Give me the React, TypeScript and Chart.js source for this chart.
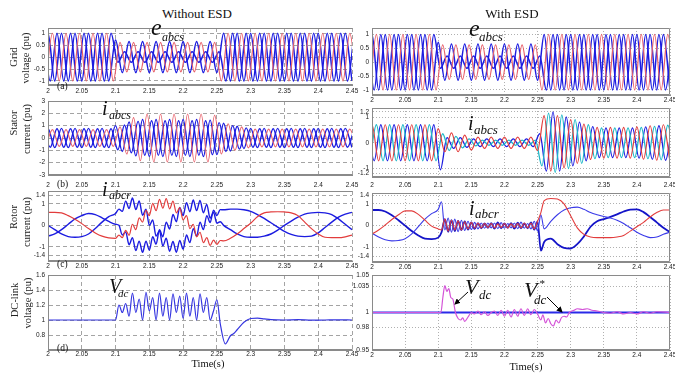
import React, { useEffect, useRef } from "react";
import { Chart, registerables } from "chart.js";
Chart.register(...registerables);

const SERIF = '"Liberation Serif", "Times New Roman", serif';
const SANS = '"Liberation Sans", Arial, sans-serif';

const rep = (v: number, n: number): number[] => Array(n).fill(v);
const steps = (start: number, step: number, n: number): number[] =>
  Array.from({ length: n }, (_, i) => +(start + i * step).toFixed(4));

// ---------- tick values ----------
const TIME_TICKS = [2, 2.05, 2.1, 2.15, 2.2, 2.25, 2.3, 2.35, 2.4, 2.45];
const GRID_TICKS = [-1, -0.5, 0, 0.5, 1];
const STATOR_L_TICKS = [-3, -2, -1, 0, 1, 2, 3];
const STATOR_R_TICKS = [-1.2, -1, 0, 1, 1.2];
const ROTOR_TICKS = [-1.4, -1, 0, 1, 1.4];
const DC_L_TICKS = [0.8, 1, 1.2, 1.4, 1.6];
const DC_R_TICKS = [0.95, 0.98, 1, 1.035, 1.05];

// ---------- grid voltage: peak value of every half cycle (1.99 .. 2.45) ----------
const gridAmpA = [...rep(1, 11), 0.72, ...rep(0.65, 15), ...rep(1, 20)];
const gridAmpB = [...rep(1, 11), ...rep(0.62, 15), ...rep(1, 21)];
const gridAmpC = [...rep(1, 11), ...rep(0.22, 16), ...rep(1, 20)];

// ---------- stator current, without ESD (half-cycle peaks) ----------
const statorLA = [...rep(0.78, 11), 1.0, 1.1, 1.3, 1.45, ...rep(1.5, 10), 1.45, 1.35, 1.2, 1.05, 0.95, 0.85, ...rep(0.78, 16)];
const statorLB = [...rep(0.68, 11), 0.9, 1.3, 1.65, 1.85, ...rep(1.95, 10), 1.85, 1.3, 1.15, 1.0, 0.9, 0.8, ...rep(0.72, 16)];
const statorLC = [...rep(0.75, 11), 0.95, 1.05, 1.2, 1.35, ...rep(1.4, 10), 1.35, 1.25, 1.1, 1.0, 0.9, 0.82, ...rep(0.75, 16)];

// ---------- stator current, with ESD (half-cycle peaks) ----------
const statorRA = [...rep(0.7, 11), 0.55, 0.35, 0.38, 0.35, 0.3, 0.28, ...rep(0.22, 9), 0.3, 1.05, 1.1, 1.05, 0.98, 0.9, 0.8, 0.72, 0.65, ...rep(0.6, 6), 0.62, 0.64, 0.66, 0.68, 0.7, 0.72];
const statorRB = [...rep(0.7, 11), 0.35, 0.3, 0.25, 0.2, 0.15, 0.12, ...rep(0.1, 9), 0.9, 1.15, 1.15, 1.08, 1.0, 0.9, 0.8, 0.7, 0.62, ...rep(0.58, 6), 0.6, 0.62, 0.64, 0.66, 0.68, 0.7];
const statorRC = [...rep(0.7, 11), 1.05, 0.2, 0.22, 0.2, 0.18, 0.15, ...rep(0.15, 9), 0.35, 1.1, 1.2, 1.1, 1.0, 0.9, 0.8, 0.7, 0.63, ...rep(0.58, 6), 0.6, 0.62, 0.64, 0.66, 0.68, 0.7];

// ---------- rotor current sample times ----------
const rotorT = [...steps(2, 0.01, 11), ...steps(2.105, 0.005, 31), ...steps(2.26, 0.01, 20)];

const rotorLRed = [
  0.6, 0.6, 0.58, 0.45, 0.28, 0.08, -0.15, -0.35, -0.5, -0.58, -0.6,
  -0.45, -0.57, -0.23, -0.46, 0.05, -0.2, 0.35, 0.15, 0.7, 0.45, 1.02, 0.68, 1.2, 0.8, 1.24, 0.76,
  1.12, 0.58, 0.82, 0.25, 0.45, -0.15, 0.05, -0.53, -0.32, -0.8, -0.57, -0.93, -0.68, -0.88, -0.7,
  -0.72, -0.6, -0.4, -0.15, 0.1, 0.4, 0.58, 0.62, 0.63, 0.62, 0.58, 0.45, 0.15, -0.15, -0.4, -0.55,
  -0.57, -0.57, -0.53, -0.45,
];
const rotorLBlueA = [
  0.0, -0.2, -0.4, -0.52, -0.55, -0.52, -0.4, -0.15, 0.15, 0.4, 0.55,
  0.75, 0.65, 1.12, 0.78, 1.27, 0.73, 1.13, 0.47, 0.75, 0.0, 0.25, -0.5, -0.25, -0.95, -0.6, -1.2,
  -0.75, -1.25, -0.7, -1.1, -0.45, -0.8, -0.15, -0.5, 0.15, -0.2, 0.45, 0.13, 0.7, 0.45, 0.73,
  0.72, 0.75, 0.75, 0.72, 0.65, 0.5, 0.32, 0.12, -0.08, -0.28, -0.42, -0.5, -0.52, -0.5, -0.35, -0.1,
  0.15, 0.38, 0.52, 0.6,
];
const rotorLBlueB = [
  -0.5, -0.4, -0.2, 0.05, 0.3, 0.45, 0.55, 0.5, 0.35, 0.18, 0.05,
  0.0, -0.45, -0.3, -0.9, -0.57, -1.17, -0.73, -1.25, -0.73, -1.15, -0.53, -0.87, -0.2, -0.53, 0.15,
  -0.17, 0.5, 0.17, 0.83, 0.45, 1.05, 0.63, 1.17, 0.68, 1.15, 0.58, 0.97, 0.33, 0.6, 0.1, 0.17,
  0.0, -0.2, -0.4, -0.52, -0.55, -0.55, -0.5, -0.4, -0.22, 0.0, 0.2, 0.38, 0.52, 0.58, 0.6, 0.58,
  0.5, 0.3, 0.05, -0.2,
];
const rotorRRed = [
  -0.38, -0.2, 0.03, 0.28, 0.5, 0.68, 0.68, 0.52, 0.25, -0.02, -0.15,
  -0.2, 0.3, -0.25, 0.25, -0.2, 0.22, -0.2, 0.18, -0.15, 0.15, -0.12, 0.12, -0.1, 0.1, -0.08, 0.1,
  -0.1, 0.08, -0.08, 0.1, -0.1, 0.08, -0.08, 0.1, -0.1, 0.12, -0.1, 0.12, -0.15, 0.2, 0.6,
  1.15, 1.25, 1.22, 1.0, 0.45, -0.1, -0.4, -0.52, -0.55, -0.55, -0.55, -0.52, -0.45, -0.25, -0.05,
  0.15, 0.4, 0.6, 0.72, 0.72,
];
const rotorRBlueA = [
  0.72, 0.72, 0.65, 0.48, 0.25, 0.0, -0.25, -0.45, -0.6, -0.62, -0.55,
  -0.3, 0.3, -0.28, 0.25, -0.25, 0.22, -0.2, 0.2, -0.18, 0.15, -0.15, 0.12, -0.12, 0.1, -0.1, 0.12,
  -0.14, 0.15, -0.12, 0.1, -0.1, 0.12, -0.14, 0.14, -0.12, 0.1, -0.12, 0.15, -0.18, 0.2, -1.15,
  -0.75, -0.6, -0.85, -1.02, -1.05, -0.85, -0.5, -0.05, 0.2, 0.3, 0.4, 0.52, 0.65, 0.74, 0.75,
  0.62, 0.4, 0.15, -0.1, -0.3,
];
const rotorRBlueB = [
  -0.35, -0.52, -0.65, -0.7, -0.68, -0.6, -0.38, -0.05, 0.3, 0.55, 0.75,
  1.1, -0.2, 0.35, -0.3, 0.3, -0.28, 0.25, -0.22, 0.2, -0.18, 0.15, -0.15, 0.12, -0.12, 0.12, -0.1,
  0.12, -0.14, 0.14, -0.12, 0.1, -0.1, 0.12, -0.14, 0.16, -0.12, 0.1, -0.15, 0.2, -0.25, 0.5,
  -0.15, 0.2, 0.5, 0.72, 0.82, 0.85, 0.75, 0.6, 0.5, 0.42, 0.35, 0.25, 0.1, -0.1, -0.3, -0.45,
  -0.55, -0.52, -0.4, -0.3,
];

// ---------- DC-link voltage ----------
const dcLeftT = [
  2.0, 2.1, 2.105, 2.11, 2.115, 2.12, 2.125, 2.13, 2.135, 2.14, 2.145, 2.15, 2.155, 2.16, 2.165, 2.17,
  2.175, 2.18, 2.185, 2.19, 2.195, 2.2, 2.205, 2.21, 2.215, 2.22, 2.225, 2.23, 2.235, 2.24, 2.245, 2.25,
  2.255, 2.2625, 2.27, 2.275, 2.28, 2.29, 2.3, 2.31, 2.32, 2.33, 2.35, 2.37, 2.39, 2.41, 2.43, 2.45,
];
const dcLeftV = [
  1.0, 1.0, 1.2, 1.1, 1.22, 1.05, 1.36, 1.1, 1.28, 1.0, 1.37, 1.12, 1.3, 1.0, 1.36, 1.05,
  1.3, 1.0, 1.35, 1.1, 1.32, 1.02, 1.36, 1.05, 1.3, 1.0, 1.35, 1.1, 1.3, 1.0, 1.12, 1.27,
  0.95, 0.68, 0.79, 0.82, 0.87, 0.97, 1.02, 1.025, 1.015, 1.005, 1.0, 1.004, 0.998, 1.0, 1.002, 1.0,
];
const dcRightT = [
  2.0, 2.104, 2.107, 2.11, 2.113, 2.116, 2.119, 2.122, 2.126, 2.13, 2.134, 2.137, 2.14, 2.145, 2.15,
  2.155, 2.16, 2.165, 2.17, 2.175, 2.18, 2.185, 2.19, 2.195, 2.2, 2.205, 2.21, 2.215, 2.22, 2.225,
  2.23, 2.235, 2.24, 2.245, 2.25, 2.255, 2.258, 2.262, 2.266, 2.27, 2.274, 2.278, 2.282, 2.286, 2.29,
  2.294, 2.298, 2.305, 2.31, 2.318, 2.325, 2.332, 2.34, 2.35, 2.36, 2.37, 2.38, 2.39, 2.4, 2.41, 2.42,
  2.43, 2.45,
];
const dcRightV = [
  1.0, 1.0, 1.02, 1.036, 1.028, 1.032, 1.02, 1.018, 1.0, 0.992, 0.99, 0.993, 0.988, 0.994, 1.0,
  0.998, 1.002, 0.997, 1.001, 0.996, 1.0, 1.002, 0.996, 1.003, 0.995, 1.003, 0.994, 1.004, 0.995, 1.005,
  0.996, 1.005, 0.997, 1.004, 0.998, 0.99, 0.997, 0.986, 0.992, 0.985, 0.982, 0.99, 0.986, 0.993, 0.995,
  0.994, 1.0, 1.003, 1.005, 1.004, 1.005, 1.003, 1.002, 1.0, 0.999, 1.001, 0.998, 1.0, 0.998, 1.001, 0.999,
  1.001, 1.0,
];
const dcRefT = [2.0, 2.45];
const dcRefV = [1.0, 1.0];

// ---------- builders ----------
type Pt = { x: number; y: number };
const PHASE = {
  a: { shift: 0, sign: -1 },
  b: { shift: 0.02 / 3, sign: -1 },
  c: { shift: 0.01 / 3, sign: 1 },
};
function wave(amps: number[], ph: "a" | "b" | "c"): Pt[] {
  const { shift, sign } = PHASE[ph];
  return amps.map((amp, k) => ({ x: 1.99 + shift + k * 0.01, y: (k % 2 === 0 ? sign : -sign) * amp }));
}
const series = (t: number[], v: number[]): Pt[] => t.map((x, i) => ({ x, y: v[i] }));

const RED_L = "#e8606a";
const BLUE = "#1c1ce0";
const RED = "#e23c3c";
const CYAN = "#1eb8c8";
const MAGENTA = "#d455d8";

type Tr = { pts: Pt[]; color: string; width: number };
type Panel = {
  key: string; l: number; r: number; t: number; b: number;
  yMin: number; yMax: number; yTicks: number[]; xPad: number; dotted: boolean; traces: Tr[]; noRight?: boolean;
};

const LL = 48, LR = 352, RL = 372, RR = 670;

const PANELS: Panel[] = [
  { key: "L1", l: LL, r: LR, t: 28, b: 85, yMin: -1.17, yMax: 1.22, yTicks: GRID_TICKS, xPad: 2.5, dotted: false, noRight: true,
    traces: [
      { pts: wave(gridAmpB, "b"), color: RED_L, width: 1.2 },
      { pts: wave(gridAmpA, "a"), color: BLUE, width: 1.5 },
      { pts: wave(gridAmpC, "c"), color: BLUE, width: 1.5 },
    ] },
  { key: "L2", l: LL, r: LR, t: 101, b: 175, yMin: -3, yMax: 3, yTicks: STATOR_L_TICKS, xPad: 6.5, dotted: false, noRight: true,
    traces: [
      { pts: wave(statorLB, "b"), color: RED_L, width: 1.1 },
      { pts: wave(statorLA, "a"), color: BLUE, width: 1.4 },
      { pts: wave(statorLC, "c"), color: BLUE, width: 1.4 },
    ] },
  { key: "L3", l: LL, r: LR, t: 191, b: 261, yMin: -1.65, yMax: 1.59, yTicks: ROTOR_TICKS, xPad: 1.5, dotted: false, noRight: true,
    traces: [
      { pts: series(rotorT, rotorLRed), color: RED, width: 1.2 },
      { pts: series(rotorT, rotorLBlueA), color: BLUE, width: 1.4 },
      { pts: series(rotorT, rotorLBlueB), color: BLUE, width: 1.4 },
    ] },
  { key: "L4", l: LL, r: LR, t: 275, b: 350, yMin: 0.6, yMax: 1.6, yTicks: DC_L_TICKS, xPad: 0.5, dotted: false, noRight: true,
    traces: [{ pts: series(dcLeftT, dcLeftV), color: "#3535e0", width: 1.2 }] },
  { key: "R1", l: RL, r: RR, t: 28, b: 95, yMin: -1.18, yMax: 1.23, yTicks: GRID_TICKS, xPad: 1.5, dotted: true,
    traces: [
      { pts: wave(gridAmpB, "b"), color: RED_L, width: 1.2 },
      { pts: wave(gridAmpA, "a"), color: BLUE, width: 1.5 },
      { pts: wave(gridAmpC, "c"), color: BLUE, width: 1.5 },
    ] },
  { key: "R2", l: RL, r: RR, t: 108, b: 177, yMin: -1.33, yMax: 1.35, yTicks: STATOR_R_TICKS, xPad: 4.5, dotted: true,
    traces: [
      { pts: wave(statorRA, "a"), color: RED, width: 1.2 },
      { pts: wave(statorRB, "b"), color: CYAN, width: 1.3 },
      { pts: wave(statorRC, "c"), color: BLUE, width: 1.3 },
    ] },
  { key: "R3", l: RL, r: RR, t: 193, b: 262, yMin: -1.67, yMax: 1.5, yTicks: ROTOR_TICKS, xPad: 1.5, dotted: true,
    traces: [
      { pts: series(rotorT, rotorRRed), color: RED, width: 1.1 },
      { pts: series(rotorT, rotorRBlueB), color: "#3a3ae8", width: 1.1 },
      { pts: series(rotorT, rotorRBlueA), color: "#1414c8", width: 1.8 },
    ] },
  { key: "R4", l: RL, r: RR, t: 275, b: 350, yMin: 0.95, yMax: 1.05, yTicks: DC_R_TICKS, xPad: 1.5, dotted: true,
    traces: [
      { pts: series(dcRightT, dcRightV), color: MAGENTA, width: 1.2 },
      { pts: series(dcRefT, dcRefV), color: "#2a2ae8", width: 2 },
    ] },
];

const fmt = (v: any) => String(Math.round(Number(v) * 1000) / 1000);

const YW = 44, XH = 18, PT = 6, PR = 12;

function PanelChart({ p }: { p: Panel }) {
  const ref = useRef<HTMLCanvasElement>(null);
  const w = p.r - p.l + YW + PR;
  const h = p.b - p.t + PT + XH;
  useEffect(() => {
    const gridColor = p.dotted ? "#b0b0b0" : "#a4a4a4";
    const dash = p.dotted ? [1, 2] : [4, 3];
    const box = {
      id: "box" + p.key,
      afterDatasetsDraw(chart: any) {
        const { ctx, chartArea: a } = chart;
        ctx.save();
        ctx.strokeStyle = "#8a8a8a";
        ctx.lineWidth = 1;
        ctx.setLineDash([]);
        const x0 = Math.round(a.left) + 0.5, x1 = Math.round(a.right) - 0.5;
        const y0 = Math.round(a.top) + 0.5, y1 = Math.round(a.bottom) - 0.5;
        ctx.beginPath();
        if (p.noRight) {
          ctx.moveTo(x1 + 1, y0); ctx.lineTo(x0, y0); ctx.lineTo(x0, y1); ctx.lineTo(x1 + 1, y1);
        } else {
          ctx.rect(x0, y0, x1 - x0, y1 - y0);
        }
        ctx.stroke();
        ctx.restore();
      },
    };
    const tickFont = { family: SANS, size: 6.5 };
    const chart = new Chart(ref.current as HTMLCanvasElement, {
      type: "line",
      data: {
        datasets: p.traces.map((tr) => ({
          data: tr.pts,
          borderColor: tr.color,
          borderWidth: tr.width,
          pointRadius: 0,
          fill: false,
          cubicInterpolationMode: "monotone",
          tension: 0,
          clip: 0,
        })),
      } as any,
      options: {
        animation: false,
        responsive: false,
        maintainAspectRatio: false,
        devicePixelRatio: 1,
        events: [],
        layout: { autoPadding: false, padding: { left: 0, top: PT, right: PR, bottom: 0 } },
        plugins: { legend: { display: false }, tooltip: { enabled: false }, title: { display: false } },
        scales: {
          x: {
            type: "linear",
            min: 2,
            max: 2.45,
            afterBuildTicks: (s: any) => { s.ticks = TIME_TICKS.map((v) => ({ value: v })); },
            afterFit: (s: any) => { s.height = XH; s.paddingLeft = 0; s.paddingRight = 0; },
            ticks: { callback: fmt, font: tickFont, color: "#222", padding: p.xPad, maxRotation: 0, minRotation: 0, autoSkip: false },
            grid: { color: gridColor, lineWidth: 1, drawTicks: false },
            border: { display: true, color: "#8a8a8a", width: 1, dash },
          },
          y: {
            type: "linear",
            min: p.yMin,
            max: p.yMax,
            afterBuildTicks: (s: any) => { s.ticks = p.yTicks.map((v) => ({ value: v })); },
            afterFit: (s: any) => { s.width = YW; s.paddingTop = 0; s.paddingBottom = 0; },
            ticks: { callback: fmt, font: tickFont, color: "#222", padding: 3, autoSkip: false },
            grid: { color: gridColor, lineWidth: 1, drawTicks: false },
            border: { display: true, color: "#8a8a8a", width: 1, dash },
          },
        },
      } as any,
      plugins: [box],
    });
    return () => chart.destroy();
  }, []);
  return (
    <canvas
      ref={ref}
      width={w}
      height={h}
      style={{ position: "absolute", left: p.l - YW, top: p.t - PT, width: w, height: h }}
    />
  );
}

function Txt(props: { x: number; base: number; size: number; italic?: boolean; mid?: boolean; children: any }) {
  const { x, base, size, italic, mid, children } = props;
  return (
    <div
      style={{
        position: "absolute",
        left: x,
        top: base - 0.8375 * size,
        fontSize: size,
        lineHeight: 1,
        fontFamily: SERIF,
        fontStyle: italic ? "italic" : "normal",
        whiteSpace: "nowrap",
        color: "#111",
        transform: mid ? "translateX(-50%)" : undefined,
      }}
    >
      {children}
    </div>
  );
}

function VTxt(props: { cx: number; cy: number; size: number; children: any }) {
  return (
    <div
      style={{
        position: "absolute",
        left: props.cx,
        top: props.cy,
        transform: "translate(-50%,-50%) rotate(-90deg)",
        fontSize: props.size,
        lineHeight: 1,
        fontFamily: SERIF,
        whiteSpace: "nowrap",
        color: "#222",
      }}
    >
      {props.children}
    </div>
  );
}

export default function App() {
  return (
    <div style={{ position: "absolute", left: 0, top: 0, width: 675, height: 377, background: "#fff", overflow: "hidden" }}>
      {PANELS.map((p) => (
        <PanelChart key={p.key} p={p} />
      ))}

      <Txt x={197} base={18} size={13} mid>Without ESD</Txt>
      <Txt x={512} base={18} size={13} mid>With ESD</Txt>
      <Txt x={208} base={368} size={10.5} mid>Time(s)</Txt>
      <Txt x={526} base={371} size={10.5} mid>Time(s)</Txt>

      <VTxt cx={13.5} cy={56.5} size={10.5}>Grid</VTxt>
      <VTxt cx={26} cy={57.5} size={10.5}>voltage (pu)</VTxt>
      <VTxt cx={13.5} cy={123} size={10.5}>Stator</VTxt>
      <VTxt cx={27} cy={129} size={10.5}>current (pu)</VTxt>
      <VTxt cx={13.5} cy={216.5} size={10.5}>Rotor</VTxt>
      <VTxt cx={27} cy={221.5} size={10.5}>current (pu)</VTxt>
      <VTxt cx={15} cy={300} size={10.5}>DC-link</VTxt>
      <VTxt cx={28} cy={303} size={10.5}>voltage (pu)</VTxt>

      <Txt x={57} base={90} size={9.5}>(a)</Txt>
      <Txt x={57} base={188} size={9.5}>(b)</Txt>
      <Txt x={57} base={268} size={9.5}>(c)</Txt>
      <Txt x={57} base={352} size={9.5}>(d)</Txt>

      <Txt x={151} base={35} size={24} italic>e</Txt>
      <Txt x={162} base={41} size={12} italic>abcs</Txt>
      <Txt x={102} base={115} size={20} italic>i</Txt>
      <Txt x={109} base={119} size={12} italic>abcs</Txt>
      <Txt x={102} base={196} size={20} italic>i</Txt>
      <Txt x={109} base={199} size={12} italic>abcr</Txt>
      <Txt x={109} base={293} size={20} italic>V</Txt>
      <Txt x={118} base={297} size={11} italic>dc</Txt>

      <Txt x={469} base={36} size={24} italic>e</Txt>
      <Txt x={479} base={41} size={13} italic>abcs</Txt>
      <Txt x={468} base={130} size={20} italic>i</Txt>
      <Txt x={474} base={134} size={13} italic>abcs</Txt>
      <Txt x={469} base={215} size={20} italic>i</Txt>
      <Txt x={475} base={218} size={13} italic>abcr</Txt>
      <Txt x={465} base={294} size={22} italic>V</Txt>
      <Txt x={479} base={299} size={13} italic>dc</Txt>
      <Txt x={524} base={297} size={22} italic>V</Txt>
      <Txt x={539} base={287} size={11} italic>*</Txt>
      <Txt x={534} base={304} size={13} italic>dc</Txt>

      <svg width={675} height={377} style={{ position: "absolute", left: 0, top: 0, pointerEvents: "none" }}>
        <defs>
          <marker id="ah" markerWidth="6" markerHeight="6" refX="5" refY="3" orient="auto" markerUnits="userSpaceOnUse">
            <path d="M0,0 L6,3 L0,6 z" fill="#000" />
          </marker>
        </defs>
        <line x1={468} y1={292} x2={455} y2={304} stroke="#000" strokeWidth={1} markerEnd="url(#ah)" />
        <line x1={547} y1={297} x2={562} y2={312} stroke="#000" strokeWidth={1} markerEnd="url(#ah)" />
      </svg>
    </div>
  );
}
